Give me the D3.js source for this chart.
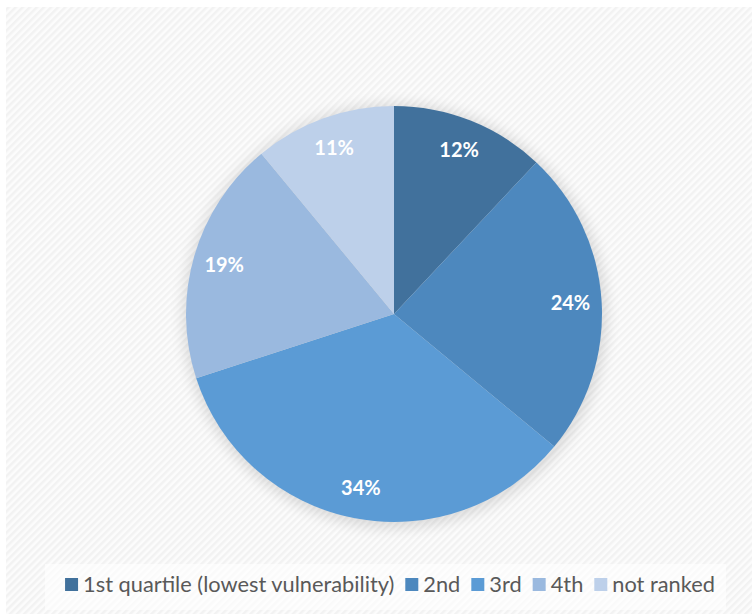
<!DOCTYPE html>
<html lang="en">
<head>
<meta charset="utf-8">
<title>Vulnerability quartiles pie</title>
<script src="https://d3js.org/d3.v7.min.js"></script>
<style>
  body { margin: 0; background: #fff; }
  text { font-family: Lato, "Open Sans", sans-serif; }
</style>
</head>
<body>
<script>
var categories = ["1st quartile (lowest vulnerability)", "2nd", "3rd", "4th", "not ranked"];
var shares = [12, 24, 34, 19, 11];
var colors = ["#41719c", "#4d88be", "#5b9bd5", "#9ab9df", "#bdd0ea"];

var width = 752, height = 616;
var cx = 394, cy = 314, radius = 208;

var svg = d3.select("body").append("svg")
    .attr("width", width)
    .attr("height", height);

var defs = svg.append("defs");

// faint diagonal hatch of the chart area
var pat = defs.append("pattern")
    .attr("id", "hatch")
    .attr("patternUnits", "userSpaceOnUse")
    .attr("width", 5).attr("height", 5)
    .attr("patternTransform", "rotate(45)");
pat.append("rect").attr("width", 5).attr("height", 5).attr("fill", "#fcfcfc");
pat.append("rect").attr("width", 2.5).attr("height", 5).attr("fill", "#f2f2f2");

var blur = defs.append("filter").attr("id", "soft")
    .attr("x", "-20%").attr("y", "-20%").attr("width", "140%").attr("height", "140%");
blur.append("feGaussianBlur").attr("stdDeviation", 7);

svg.append("rect")
    .attr("x", 6).attr("y", 7)
    .attr("width", width - 6).attr("height", height - 9)
    .attr("fill", "url(#hatch)");

// shadow behind the pie
svg.append("circle")
    .attr("cx", cx + 1).attr("cy", cy + 2)
    .attr("r", radius + 4)
    .attr("fill", "#000")
    .attr("opacity", 0.12)
    .attr("filter", "url(#soft)");

var pie = d3.pie().sort(null).value(function(d) { return d; });
var arc = d3.arc().innerRadius(0).outerRadius(radius);
var labelArc = d3.arc().innerRadius(radius * 0.85).outerRadius(radius * 0.85);

var g = svg.append("g").attr("transform", "translate(" + cx + "," + cy + ")");
var arcs = pie(shares);

g.selectAll("path")
    .data(arcs)
    .enter().append("path")
    .attr("d", arc)
    .attr("fill", function(d, i) { return colors[i]; });

g.selectAll("text.lbl")
    .data(arcs)
    .enter().append("text")
    .attr("class", "lbl")
    .attr("transform", function(d) { return "translate(" + labelArc.centroid(d) + ")"; })
    .attr("text-anchor", "middle")
    .attr("dy", "0.35em")
    .attr("fill", "#fff")
    .attr("font-weight", "bold")
    .attr("font-size", 20)
    .text(function(d) { return d.data + "%"; });

// legend
svg.append("rect")
    .attr("x", 45).attr("y", 564)
    .attr("width", 681).attr("height", 46)
    .attr("fill", "#fff").attr("opacity", 0.6);

var legend = svg.append("g");
var box = 13, gapBox = 5, gapItem = 11;
var xpos = 0;
categories.forEach(function(c, i) {
    var item = legend.append("g").attr("transform", "translate(" + xpos + ",0)");
    item.append("rect")
        .attr("x", 0).attr("y", -14)
        .attr("width", box).attr("height", box)
        .attr("fill", colors[i]);
    var t = item.append("text")
        .attr("x", box + gapBox).attr("y", 0)
        .attr("font-size", 21.8)
        .attr("fill", "#595959")
        .text(c);
    xpos += box + gapBox + t.node().getComputedTextLength() + gapItem;
});
var legendW = xpos - gapItem;
legend.attr("transform", "translate(" + (390 - legendW / 2) + ",592)");
</script>
</body>
</html>
